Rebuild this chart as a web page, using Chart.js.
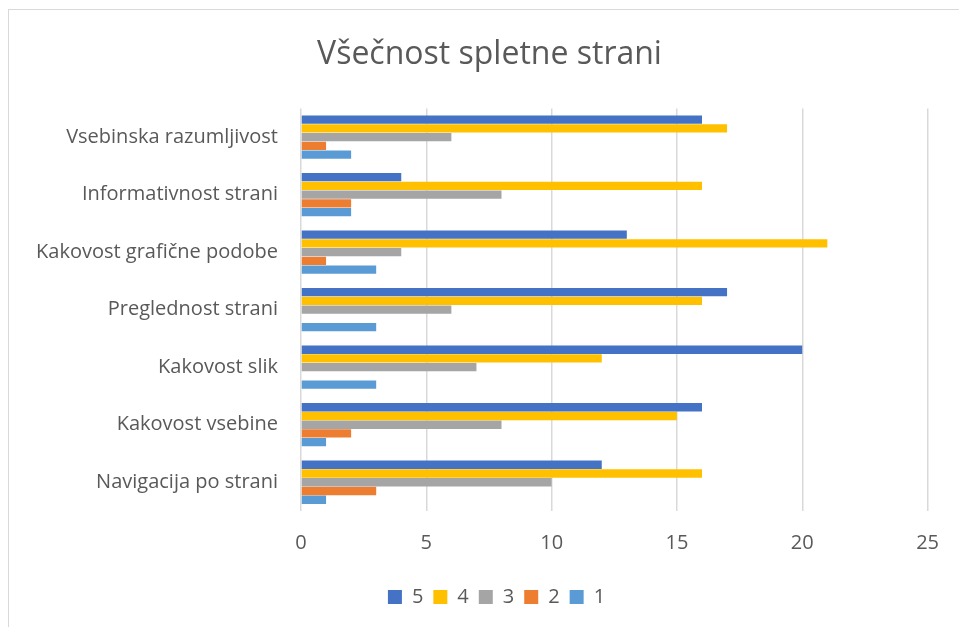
<!DOCTYPE html>
<html>
<head>
<meta charset="utf-8">
<script src="https://cdn.jsdelivr.net/npm/chart.js@4"></script>
<style>
  html, body { margin: 0; padding: 0; background: #ffffff; overflow: hidden; }
  #wrap { position: relative; width: 959px; height: 627px; }
  #frame { position: absolute; left: 8px; top: 9px; width: 1000px; height: 1000px; border: 1px solid #d9d9d9; box-sizing: border-box; }
  #holder { position: absolute; left: 0; top: 0; width: 959px; height: 627px; }
</style>
</head>
<body>
<div id="wrap">
  <div id="frame"></div>
  <div id="holder"><canvas id="c"></canvas></div>
</div>
<script>
const chartTitle = "Všečnost spletne strani";
const categories = [
  "Vsebinska razumljivost",
  "Informativnost strani",
  "Kakovost grafične podobe",
  "Preglednost strani",
  "Kakovost slik",
  "Kakovost vsebine",
  "Navigacija po strani"
];
const seriesNames = ["5", "4", "3", "2", "1"];
const values5 = [16, 4, 13, 17, 20, 16, 12];
const values4 = [17, 16, 21, 16, 12, 15, 16];
const values3 = [6, 8, 4, 6, 7, 8, 10];
const values2 = [1, 2, 1, 0, 0, 2, 3];
const values1 = [2, 2, 3, 3, 3, 1, 1];
const xTicks = [0, 5, 10, 15, 20, 25];
const seriesColors = ["#4472C4", "#FFC000", "#A5A5A5", "#ED7D31", "#5B9BD5"];

const allValues = [values5, values4, values3, values2, values1];
const textColor = "#595959";
const fontFamily = "'Open Sans', 'Noto Sans', sans-serif";

const datasets = seriesNames.map((name, i) => ({
  label: name,
  data: allValues[i],
  backgroundColor: seriesColors[i],
  borderWidth: 0,
  categoryPercentage: 0.76,
  barPercentage: 0.95
}));

// shift the full-width title and legend boxes so they are centred like the reference
const shiftBoxes = {
  id: "shiftBoxes",
  afterLayout(chart) {
    if (chart.titleBlock) { chart.titleBlock.left += 24; chart.titleBlock.right += 24; }
    if (chart.legend) { chart.legend.left += 31; chart.legend.right += 31; }
  }
};

new Chart(document.getElementById("c"), {
  type: "bar",
  data: { labels: categories, datasets: datasets },
  plugins: [shiftBoxes],
  options: {
    indexAxis: "y",
    responsive: true,
    maintainAspectRatio: false,
    animation: false,
    layout: { padding: { left: 0, right: 28, top: 0, bottom: 10 } },
    plugins: {
      title: {
        display: true,
        text: chartTitle,
        color: textColor,
        font: { family: fontFamily, size: 32, weight: "normal" },
        padding: { top: 36, bottom: 34 }
      },
      legend: {
        display: true,
        position: "bottom",
        labels: {
          color: textColor,
          font: { family: fontFamily, size: 20 },
          boxWidth: 14,
          boxHeight: 14,
          padding: 10
        }
      },
      tooltip: { enabled: false }
    },
    scales: {
      x: {
        min: xTicks[0],
        max: xTicks[xTicks.length - 1],
        afterBuildTicks: (scale) => { scale.ticks = xTicks.map(v => ({ value: v })); },
        grid: { color: "#d9d9d9", lineWidth: 1.5, drawTicks: false },
        border: { display: false },
        ticks: {
          color: textColor,
          font: { family: fontFamily, size: 20 },
          padding: 20
        },
        afterFit: (scale) => { scale.height = 66; }
      },
      y: {
        grid: { display: false },
        border: { display: false },
        ticks: {
          color: textColor,
          font: { family: fontFamily, size: 20 },
          padding: 15,
          autoSkip: false
        },
        afterFit: (scale) => { scale.width = 301; }
      }
    }
  }
});
</script>
</body>
</html>
